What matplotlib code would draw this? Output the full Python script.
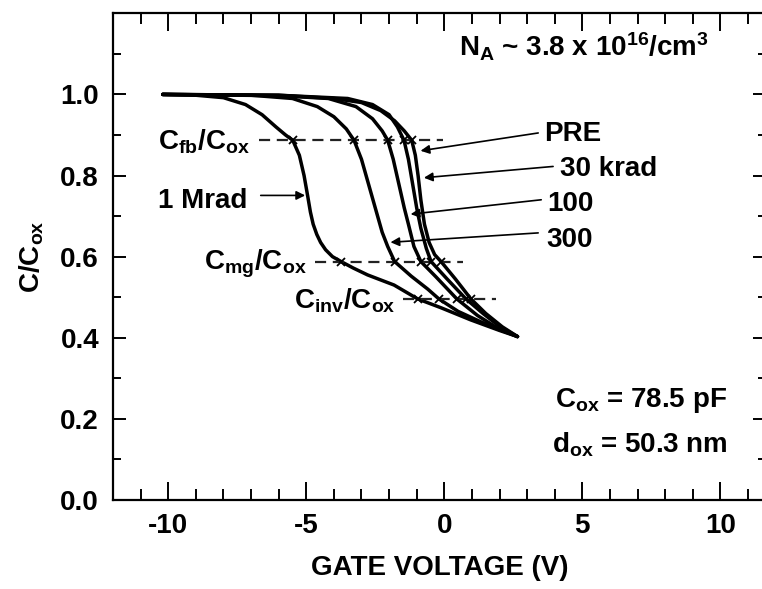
import matplotlib
matplotlib.use("Agg")
import matplotlib.pyplot as plt
from matplotlib.ticker import MultipleLocator

# C-V curves after irradiation (normalised capacitance vs gate voltage)
v_1mrad = [-10.2, -9.0, -8.0, -7.2, -6.6, -6.1, -5.75, -5.49, -5.25, -5.08, -4.95, -4.85, -4.75,
           -4.62, -4.48, -4.3, -4.05, -3.74, -3.3, -2.78, -1.82, -0.97, -0.12, 0.96, 2.0, 2.65]
c_1mrad = [1.0, 0.998, 0.992, 0.975, 0.95, 0.92, 0.9, 0.887, 0.85, 0.8, 0.75, 0.71, 0.68,
           0.655, 0.635, 0.617, 0.6, 0.588, 0.572, 0.555, 0.53, 0.496, 0.474, 0.444, 0.418, 0.403]

v_300 = [-10.2, -7.0, -5.5, -4.6, -4.0, -3.55, -3.27, -3.0, -2.75, -2.5, -2.25, -2.05, -1.8,
         -1.2, -0.6, -0.2, 0.5, 1.3, 2.0, 2.65]
c_300 = [1.0, 0.998, 0.99, 0.97, 0.945, 0.915, 0.887, 0.84, 0.78, 0.72, 0.66, 0.625, 0.588,
         0.552, 0.52, 0.496, 0.465, 0.44, 0.42, 0.403]

v_100 = [-10.2, -6.0, -4.2, -3.2, -2.6, -2.25, -2.05, -1.85, -1.65, -1.45, -1.3, -1.1, -0.85,
         -0.3, 0.45, 1.2, 1.9, 2.65]
c_100 = [1.0, 0.997, 0.99, 0.97, 0.94, 0.91, 0.887, 0.84, 0.78, 0.72, 0.68, 0.625, 0.588,
         0.55, 0.496, 0.455, 0.425, 0.403]

v_30k = [-10.2, -6.0, -3.5, -2.6, -2.0, -1.7, -1.46, -1.3, -1.15, -1.0, -0.85, -0.65, -0.48,
         0.1, 0.78, 1.4, 2.0, 2.65]
c_30k = [1.0, 0.998, 0.99, 0.975, 0.95, 0.92, 0.887, 0.84, 0.78, 0.72, 0.67, 0.62, 0.588,
         0.545, 0.496, 0.46, 0.428, 0.403]

v_pre = [-10.2, -6.0, -4.0, -3.0, -2.3, -1.8, -1.45, -1.18, -1.05, -0.95, -0.85, -0.72, -0.55,
         -0.35, -0.12, 0.4, 0.96, 1.5, 2.1, 2.65]
c_pre = [1.0, 0.998, 0.99, 0.98, 0.96, 0.935, 0.91, 0.887, 0.85, 0.8, 0.74, 0.68, 0.635,
         0.605, 0.588, 0.545, 0.496, 0.46, 0.427, 0.403]

# reference levels: flatband, midgap, inversion
c_fb, c_mg, c_inv = 0.887, 0.588, 0.496
fb_span = [-6.7, -0.06]
mg_span = [-4.7, 0.66]
inv_span = [-1.5, 1.87]
v_fb = [-5.49, -3.27, -2.05, -1.46, -1.18]
v_mg = [-3.74, -1.8, -0.85, -0.48, -0.12]
v_inv = [-0.97, -0.2, 0.45, 0.78, 0.96]

# curve labels: text, text position, arrow tip
curve_labels = ["PRE", "30 krad", "100", "300"]
label_pos = [(3.6, 0.884), (4.2, 0.798), (3.74, 0.712), (3.68, 0.625)]
arrow_from = [(3.5, 0.906), (4.04, 0.823), (3.61, 0.741), (3.5, 0.659)]
arrow_to = [(-0.96, 0.860), (-0.84, 0.794), (-1.32, 0.704), (-2.05, 0.635)]

plt.rcParams['font.family'] = ['Liberation Sans', 'DejaVu Sans']
plt.rcParams['font.weight'] = 'bold'
plt.rcParams['axes.labelweight'] = 'bold'
plt.rcParams['mathtext.fontset'] = 'custom'
plt.rcParams['mathtext.rm'] = 'Liberation Sans:bold'
plt.rcParams['mathtext.it'] = 'Liberation Sans:bold'
plt.rcParams['mathtext.bf'] = 'Liberation Sans:bold'

fig = plt.figure(figsize=(7.62, 5.89), dpi=100)
ax = fig.add_axes([0.1483, 0.1511, 0.8569, 0.8263])

for v, c in [(v_1mrad, c_1mrad), (v_300, c_300), (v_100, c_100), (v_30k, c_30k), (v_pre, c_pre)]:
    ax.plot(v, c, color='black', lw=2.5, solid_joinstyle='round', solid_capstyle='round')

for level, span, pts in [(c_fb, fb_span, v_fb), (c_mg, mg_span, v_mg), (c_inv, inv_span, v_inv)]:
    ax.plot(span, [level, level], color='#222222', lw=1.6, ls=(0, (5, 3)))
    ax.plot(pts, [level] * len(pts), ls='none', marker='x', ms=6, mew=1.3, color='black')

fs = 20
arrow_style = dict(arrowstyle='-|>', color='black', lw=1.2, mutation_scale=13)
ax.text(-10.37, 0.864, r'C$_{fb}$/C$_{ox}$', fontsize=fs)
ax.text(-10.37, 0.721, '1 Mrad', fontsize=fs)
ax.annotate('', xy=(-4.94, 0.751), xytext=(-6.75, 0.751), arrowprops=arrow_style)
ax.text(-8.7, 0.568, r'C$_{mg}$/C$_{ox}$', fontsize=fs)
ax.text(-5.44, 0.473, r'C$_{inv}$/C$_{ox}$', fontsize=fs)

for name, pos, a0, a1 in zip(curve_labels, label_pos, arrow_from, arrow_to):
    ax.text(pos[0], pos[1], name, fontsize=fs)
    ax.annotate('', xy=a1, xytext=a0, arrowprops=arrow_style)

ax.text(0.53, 1.094, r'N$_A$ ~ 3.8 x 10$^{16}$/cm$^3$', fontsize=fs)
ax.text(4.0, 0.230, r'C$_{ox}$ = 78.5 pF', fontsize=fs)
ax.text(3.9, 0.116, r'd$_{ox}$ = 50.3 nm', fontsize=fs)

ax.set_xlim(-12, 11.65)
ax.set_ylim(0, 1.2)
ax.xaxis.set_minor_locator(MultipleLocator(1))
ax.yaxis.set_minor_locator(MultipleLocator(0.1))
ax.set_yticks([0.0, 0.2, 0.4, 0.6, 0.8, 1.0])
ax.set_yticklabels(['0.0', '0.2', '0.4', '0.6', '0.8', '1.0'])
ax.set_xticks([-10, -5, 0, 5, 10])
ax.set_xticklabels(['-10', '-5', '0', '5', '10'])

ax.tick_params(axis='x', which='both', direction='in', top=True, labelsize=20, pad=9)
ax.tick_params(axis='x', which='major', length=13, width=1.4)
ax.tick_params(axis='x', which='minor', length=8, width=1.4)
ax.tick_params(axis='y', which='both', direction='in', right=True, labelsize=20, pad=10)
ax.tick_params(axis='y', which='major', length=9.5, width=1.4)
ax.tick_params(axis='y', which='minor', length=6, width=1.4)
for sp in ax.spines.values():
    sp.set_linewidth(1.6)

ax.set_xlabel('GATE VOLTAGE (V)', fontsize=20, labelpad=12)
ax.set_ylabel(r'C/C$_{ox}$', fontsize=20, labelpad=10)

fig.savefig('out.png', dpi=100)
